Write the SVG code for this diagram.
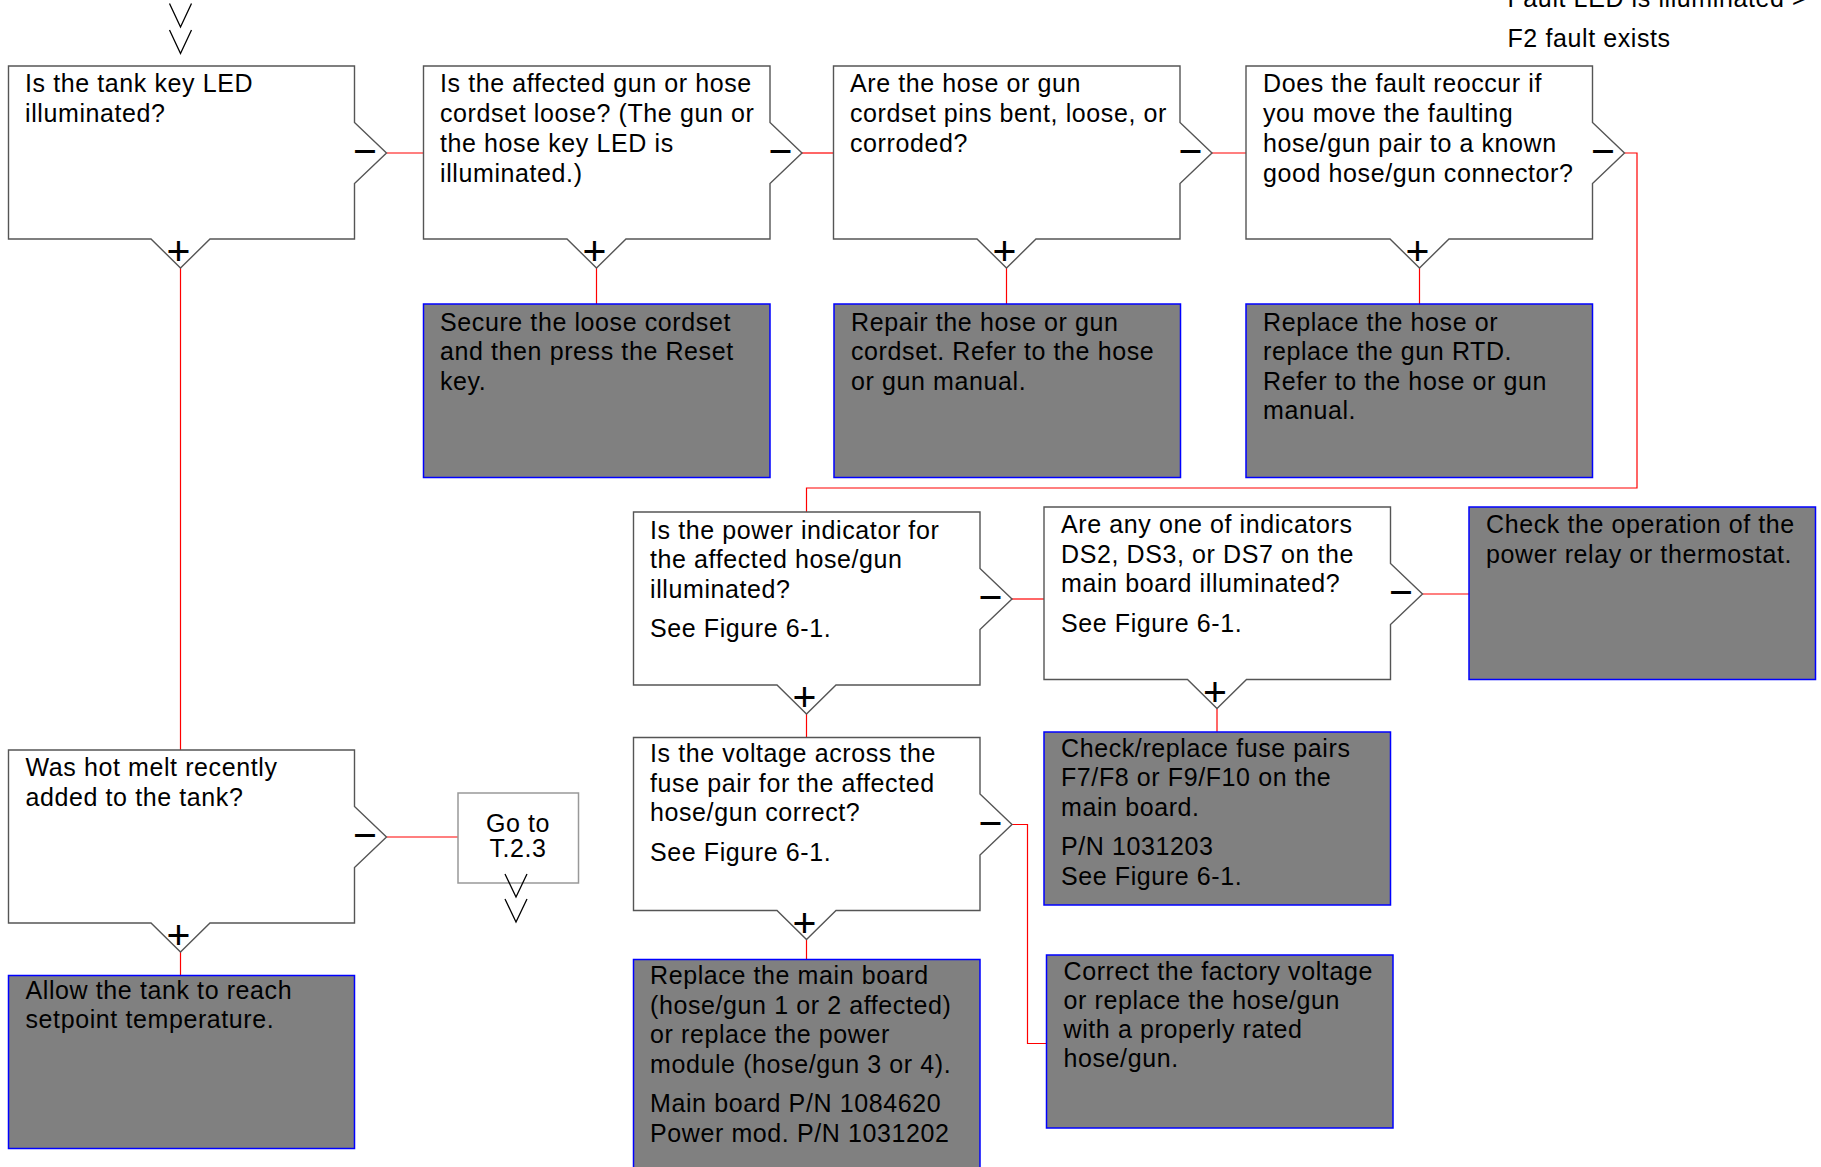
<svg xmlns="http://www.w3.org/2000/svg" width="1821" height="1167" viewBox="0 0 1821 1167">
<style>
  .t { font-family: "Liberation Sans", Arial, sans-serif; font-size: 25px; letter-spacing: 0.6px; fill: #000; }
  .sg { font-family: "Liberation Sans", Arial, sans-serif; font-size: 41px; fill: #000; text-anchor: middle; }
  .dec { fill: #fff; stroke: #555; stroke-width: 1.4; }
  .act { fill: #808080; stroke: #0000ff; stroke-width: 1.5; }
  .goto { fill: #fff; stroke: #999; stroke-width: 1.5; }
  .con { fill: none; stroke: #ff0000; stroke-width: 1.2; }
  .chev { fill: none; stroke: #000; stroke-width: 1.3; }
</style>
<rect width="1821" height="1167" fill="#fff"/>

<g id="connectors">
  <path class="con" d="M386.5,153 H423.5"/>
  <path class="con" d="M802,153 H833.5"/>
  <path class="con" d="M1212,153 H1246"/>
  <path class="con" d="M1624.5,153 H1637 V488 H806.5 V512"/>
  <path class="con" d="M180.5,268 V750"/>
  <path class="con" d="M596.5,268 V304"/>
  <path class="con" d="M1006.5,268 V304"/>
  <path class="con" d="M1419.5,268 V304"/>
  <path class="con" d="M1012,599 H1044"/>
  <path class="con" d="M806.5,714 V737.5"/>
  <path class="con" d="M1422.5,594 H1469"/>
  <path class="con" d="M1217,708.5 V732"/>
  <path class="con" d="M1012,824.5 H1027.5 V1043.5 H1046.5"/>
  <path class="con" d="M806.5,939.5 V959.5"/>
  <path class="con" d="M386.5,837 H458"/>
  <path class="con" d="M180.5,952 V975.5"/>
</g>

<g id="header">
  <text class="t" x="1507.5" y="7">Fault LED is illuminated &gt;</text>
  <text class="t" x="1507.5" y="47">F2 fault exists</text>
</g>

<g id="q1">
  <path class="dec" d="M8.5,66 H354.5 V122.5 L386.5,153 L354.5,183.5 V239 H210 L180.5,268 L151,239 H8.5 Z"/>
  <text class="t" x="25" y="92">Is the tank key LED</text>
  <text class="t" x="25" y="122">illuminated?</text>
  <text class="sg" x="365" y="165">−</text>
  <text class="sg" x="178.5" y="265">+</text>
</g>

<g id="q2">
  <path class="dec" d="M423.5,66 H770 V122.5 L802,153 L770,183.5 V239 H626 L596.5,268 L567,239 H423.5 Z"/>
  <text class="t" x="440" y="92">Is the affected gun or hose</text>
  <text class="t" x="440" y="122">cordset loose? (The gun or</text>
  <text class="t" x="440" y="152">the hose key LED is</text>
  <text class="t" x="440" y="182">illuminated.)</text>
  <text class="sg" x="780.5" y="165">−</text>
  <text class="sg" x="594.5" y="265">+</text>
</g>

<g id="q3">
  <path class="dec" d="M833.5,66 H1180 V122.5 L1212,153 L1180,183.5 V239 H1036 L1006.5,268 L977,239 H833.5 Z"/>
  <text class="t" x="850" y="92">Are the hose or gun</text>
  <text class="t" x="850" y="122">cordset pins bent, loose, or</text>
  <text class="t" x="850" y="152">corroded?</text>
  <text class="sg" x="1190.5" y="165">−</text>
  <text class="sg" x="1004.5" y="265">+</text>
</g>

<g id="q4">
  <path class="dec" d="M1246,66 H1592.5 V122.5 L1624.5,153 L1592.5,183.5 V239 H1449 L1419.5,268 L1390,239 H1246 Z"/>
  <text class="t" x="1263" y="92">Does the fault reoccur if</text>
  <text class="t" x="1263" y="122">you move the faulting</text>
  <text class="t" x="1263" y="152">hose/gun pair to a known</text>
  <text class="t" x="1263" y="182">good hose/gun connector?</text>
  <text class="sg" x="1603" y="165">−</text>
  <text class="sg" x="1417.5" y="265">+</text>
</g>

<g id="a-secure">
  <rect class="act" x="423.5" y="304" width="346.5" height="173.5"/>
  <text class="t" x="440" y="330.5">Secure the loose cordset</text>
  <text class="t" x="440" y="360">and then press the Reset</text>
  <text class="t" x="440" y="389.5">key.</text>
</g>

<g id="a-repair">
  <rect class="act" x="834" y="304" width="346.5" height="173.5"/>
  <text class="t" x="851" y="330.5">Repair the hose or gun</text>
  <text class="t" x="851" y="360">cordset. Refer to the hose</text>
  <text class="t" x="851" y="389.5">or gun manual.</text>
</g>

<g id="a-replace-hose">
  <rect class="act" x="1246" y="304" width="346.5" height="173.5"/>
  <text class="t" x="1263" y="330.5">Replace the hose or</text>
  <text class="t" x="1263" y="360">replace the gun RTD.</text>
  <text class="t" x="1263" y="389.5">Refer to the hose or gun</text>
  <text class="t" x="1263" y="419">manual.</text>
</g>

<g id="q5">
  <path class="dec" d="M633.5,512 H980 V568.5 L1012,599 L980,629.5 V685 H836 L806.5,714 L777,685 H633.5 Z"/>
  <text class="t" x="650" y="538.5">Is the power indicator for</text>
  <text class="t" x="650" y="568">the affected hose/gun</text>
  <text class="t" x="650" y="597.5">illuminated?</text>
  <text class="t" x="650" y="637">See Figure 6-1.</text>
  <text class="sg" x="990.5" y="611">−</text>
  <text class="sg" x="804.5" y="711">+</text>
</g>

<g id="q6">
  <path class="dec" d="M633.5,737.5 H980 V794 L1012,824.5 L980,855 V910.5 H836 L806.5,939.5 L777,910.5 H633.5 Z"/>
  <text class="t" x="650" y="762">Is the voltage across the</text>
  <text class="t" x="650" y="791.5">fuse pair for the affected</text>
  <text class="t" x="650" y="821">hose/gun correct?</text>
  <text class="t" x="650" y="860.5">See Figure 6-1.</text>
  <text class="sg" x="990.5" y="836.5">−</text>
  <text class="sg" x="804.5" y="936.5">+</text>
</g>

<g id="q7">
  <path class="dec" d="M1044,507 H1390.5 V563.5 L1422.5,594 L1390.5,624.5 V679.5 H1246.5 L1217,708.5 L1187.5,679.5 H1044 Z"/>
  <text class="t" x="1061" y="533">Are any one of indicators</text>
  <text class="t" x="1061" y="562.5">DS2, DS3, or DS7 on the</text>
  <text class="t" x="1061" y="592">main board illuminated?</text>
  <text class="t" x="1061" y="631.5">See Figure 6-1.</text>
  <text class="sg" x="1401" y="606">−</text>
  <text class="sg" x="1215" y="705.5">+</text>
</g>

<g id="a-check-relay">
  <rect class="act" x="1469" y="507" width="346.5" height="172.5"/>
  <text class="t" x="1486" y="533">Check the operation of the</text>
  <text class="t" x="1486" y="562.5">power relay or thermostat.</text>
</g>

<g id="a-check-fuse">
  <rect class="act" x="1044" y="732" width="346.5" height="173"/>
  <text class="t" x="1061" y="757">Check/replace fuse pairs</text>
  <text class="t" x="1061" y="786">F7/F8 or F9/F10 on the</text>
  <text class="t" x="1061" y="815.5">main board.</text>
  <text class="t" x="1061" y="855">P/N 1031203</text>
  <text class="t" x="1061" y="884.5">See Figure 6-1.</text>
</g>

<g id="a-correct-voltage">
  <rect class="act" x="1046.5" y="955" width="346.5" height="173"/>
  <text class="t" x="1063.5" y="979.5">Correct the factory voltage</text>
  <text class="t" x="1063.5" y="1008.5">or replace the hose/gun</text>
  <text class="t" x="1063.5" y="1037.5">with a properly rated</text>
  <text class="t" x="1063.5" y="1066.5">hose/gun.</text>
</g>

<g id="a-replace-board">
  <rect class="act" x="633.5" y="959.5" width="346.5" height="215"/>
  <text class="t" x="650" y="984">Replace the main board</text>
  <text class="t" x="650" y="1013.5">(hose/gun 1 or 2 affected)</text>
  <text class="t" x="650" y="1043">or replace the power</text>
  <text class="t" x="650" y="1072.5">module (hose/gun 3 or 4).</text>
  <text class="t" x="650" y="1112">Main board P/N 1084620</text>
  <text class="t" x="650" y="1141.5">Power mod. P/N 1031202</text>
</g>

<g id="q8">
  <path class="dec" d="M8.5,750 H354.5 V806.5 L386.5,837 L354.5,867.5 V923 H210 L180.5,952 L151,923 H8.5 Z"/>
  <text class="t" x="25.5" y="776">Was hot melt recently</text>
  <text class="t" x="25.5" y="805.5">added to the tank?</text>
  <text class="sg" x="365" y="849">−</text>
  <text class="sg" x="178.5" y="949">+</text>
</g>

<g id="goto">
  <rect class="goto" x="458" y="793" width="120.5" height="90"/>
  <text class="t" x="518" y="831.5" text-anchor="middle">Go to</text>
  <text class="t" x="518" y="857" text-anchor="middle">T.2.3</text>
</g>

<g id="a-allow">
  <rect class="act" x="8.5" y="975.5" width="346" height="173"/>
  <text class="t" x="25.5" y="998.5">Allow the tank to reach</text>
  <text class="t" x="25.5" y="1028">setpoint temperature.</text>
</g>

<g id="continuation-marks">
  <path class="chev" d="M169.5,3.5 L180.5,27 L191.5,3.5 M169.5,30 L180.5,53.5 L191.5,30"/>
  <path class="chev" d="M505,874 L516,897 L527,874 M505,899 L516,922 L527,899"/>
</g>
</svg>
